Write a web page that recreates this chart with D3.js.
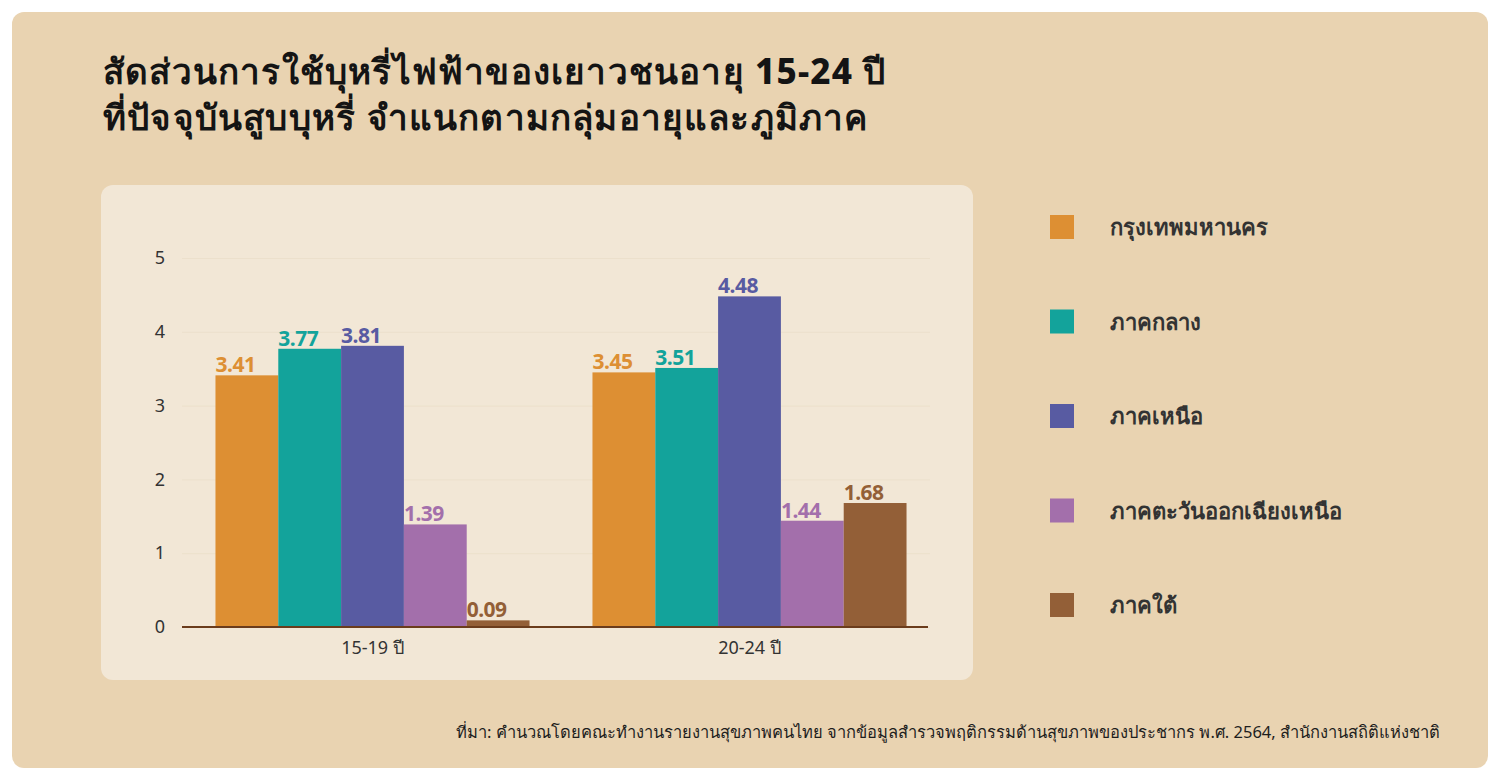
<!DOCTYPE html>
<html>
<head>
<meta charset="utf-8">
<script src="https://cdn.jsdelivr.net/npm/d3@7"></script>
<style>
  body { margin:0; background:#fff; }
  svg text { font-family: "Noto Sans", "Open Sans", sans-serif; }
</style>
</head>
<body>
<svg id="chart" width="1500" height="780"></svg>
<script>
// data
const ageGroups = ["15-19 ปี", "20-24 ปี"];
const regions = ["กรุงเทพมหานคร", "ภาคกลาง", "ภาคเหนือ", "ภาคตะวันออกเฉียงเหนือ", "ภาคใต้"];
const values1519 = [3.41, 3.77, 3.81, 1.39, 0.09];
const values2024 = [3.45, 3.51, 4.48, 1.44, 1.68];
const yTicks = [0, 1, 2, 3, 4, 5];
const regionColours = ["#dd8f33", "#13a39b", "#585ba2", "#a36fab", "#935f37"];

const titleLines = [
    "สัดส่วนการใช้บุหรี่ไฟฟ้าของเยาวชนอายุ 15-24 ปี",
    "ที่ปัจจุบันสูบบุหรี่ จำแนกตามกลุ่มอายุและภูมิภาค"
];
const sourceText = "ที่มา: คำนวณโดยคณะทำงานรายงานสุขภาพคนไทย จากข้อมูลสำรวจพฤติกรรมด้านสุขภาพของประชากร พ.ศ. 2564, สำนักงานสถิติแห่งชาติ";

const seriesByGroup = [values1519, values2024];

const svg = d3.select("#chart");

// backgrounds
svg.append("rect")
    .attr("x", 12).attr("y", 12)
    .attr("width", 1476).attr("height", 756)
    .attr("rx", 12)
    .attr("fill", "#e9d3b1");

svg.append("rect")
    .attr("x", 101).attr("y", 185)
    .attr("width", 872).attr("height", 495)
    .attr("rx", 12)
    .attr("fill", "#f2e7d6");

// title, one text per line
svg.selectAll(".title")
    .data(titleLines)
    .enter()
    .append("text")
    .attr("class", "title")
    .attr("x", 103)
    .attr("y", (d, i) => 84 + i * 46)
    .attr("font-size", 35)
    .attr("font-weight", 800)
    .attr("letter-spacing", 1.2)
    .attr("fill", "#141414")
    .text(d => d);

// scales
const yScale = d3.scaleLinear().domain([0, 5]).range([627, 258]);
const x0 = d3.scaleBand()
    .domain(ageGroups)
    .range([184, 938])
    .paddingInner(0.167)
    .paddingOuter(0.0835);
const x1 = d3.scaleBand()
    .domain(regions)
    .range([0, x0.bandwidth()]);
const colourScale = d3.scaleOrdinal().domain(regions).range(regionColours);

// gridlines + y labels
const plot = svg.append("g");
const yAxis = d3.axisLeft(yScale)
    .tickValues(yTicks)
    .tickSize(-748)
    .tickFormat(d3.format("d"));
const yG = plot.append("g")
    .attr("transform", "translate(182,0)")
    .call(yAxis);
yG.select(".domain").remove();
yG.selectAll(".tick line")
    .attr("stroke", "#ece0cc")
    .attr("stroke-width", 1);
yG.selectAll(".tick text")
    .attr("x", -22)
    .attr("text-anchor", "middle")
    .attr("font-size", 18)
    .attr("fill", "#333");

// bars
const groups = plot.selectAll(".group")
    .data(ageGroups)
    .enter()
    .append("g")
    .attr("class", "group")
    .attr("transform", d => "translate(" + x0(d) + ",0)");

groups.selectAll("rect")
    .data((d, i) => regions.map((r, j) => ({region: r, value: seriesByGroup[i][j]})))
    .enter()
    .append("rect")
    .attr("x", d => x1(d.region))
    .attr("width", x1.bandwidth())
    .attr("y", d => yScale(d.value))
    .attr("height", d => yScale(0) - yScale(d.value))
    .attr("fill", d => colourScale(d.region));

groups.selectAll(".val")
    .data((d, i) => regions.map((r, j) => ({region: r, value: seriesByGroup[i][j]})))
    .enter()
    .append("text")
    .attr("class", "val")
    .attr("x", d => x1(d.region))
    .attr("y", d => yScale(d.value) - 3)
    .attr("font-size", 21)
    .attr("font-weight", 700)
    .attr("letter-spacing", -0.5)
    .attr("fill", d => colourScale(d.region))
    .text(d => d3.format(".2f")(d.value));

// baseline + x labels
const xAxis = d3.axisBottom(x0).tickSize(0).tickPadding(14);
const xG = plot.append("g")
    .attr("transform", "translate(0," + yScale(0) + ")")
    .call(xAxis);
xG.select(".domain").remove();
xG.selectAll(".tick text")
    .attr("font-size", 18)
    .attr("fill", "#333");
plot.append("line")
    .attr("x1", 182).attr("x2", 928)
    .attr("y1", yScale(0)).attr("y2", yScale(0))
    .attr("stroke", "#6b3c1c")
    .attr("stroke-width", 2);

// legend
const legendY = d3.scalePoint().domain(regions).range([227, 605]);
const legend = svg.append("g")
    .selectAll("g")
    .data(regions)
    .enter()
    .append("g")
    .attr("transform", d => "translate(1050," + legendY(d) + ")");
legend.append("rect")
    .attr("x", 0).attr("y", -12)
    .attr("width", 24).attr("height", 24)
    .attr("fill", d => colourScale(d));
legend.append("text")
    .attr("x", 60).attr("y", 8)
    .attr("font-size", 22)
    .attr("font-weight", 700)
    .attr("fill", "#333")
    .text(d => d);

// source
svg.append("text")
    .attr("x", 1440).attr("y", 738)
    .attr("text-anchor", "end")
    .attr("font-size", 16.5)
    .attr("fill", "#1e1e1e")
    .text(sourceText);
</script>
</body>
</html>
